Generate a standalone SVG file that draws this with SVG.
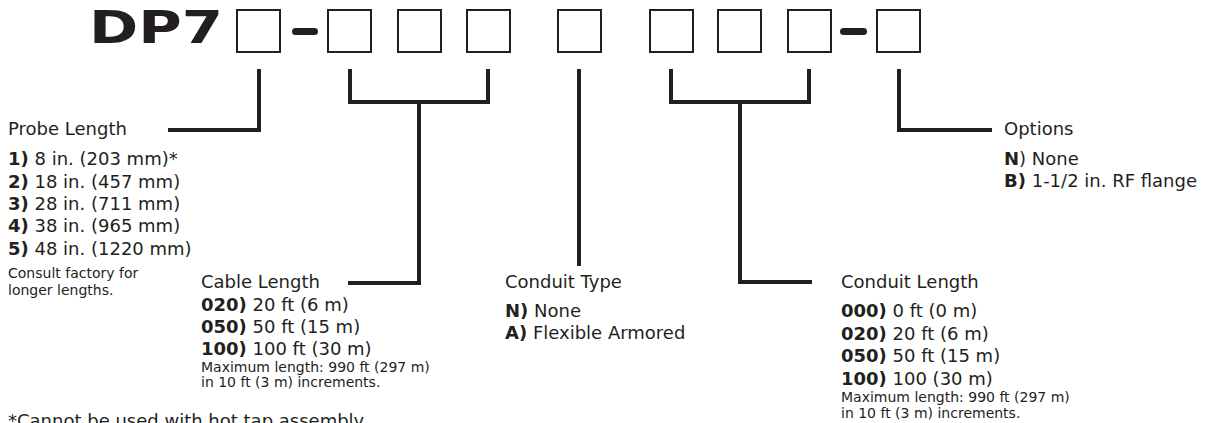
<svg xmlns="http://www.w3.org/2000/svg" width="1211" height="423" viewBox="0 0 1211 423">
<style>
.box{fill:#fff;stroke:#231f20;stroke-width:2}
.dash{fill:#231f20}
.con{fill:none;stroke:#231f20;stroke-width:4;stroke-linejoin:miter;stroke-linecap:butt}
text{font-family:"DejaVu Sans","Liberation Sans",sans-serif;fill:#231f20}
.t{font-size:18px}
.s{font-size:14px}
.b{font-weight:bold}
</style>
<rect width="1211" height="423" fill="#fff"/>
<g id="code">
<text x="89" y="43" font-size="44" font-weight="bold" textLength="134" lengthAdjust="spacingAndGlyphs">DP7</text>
<rect class="box" x="237" y="10" width="43" height="42"/>
<rect class="dash" x="292" y="28" width="26" height="7" rx="3.5"/>
<rect class="box" x="328" y="10" width="43" height="42"/>
<rect class="box" x="398" y="10" width="43" height="42"/>
<rect class="box" x="467" y="10" width="43" height="42"/>
<rect class="box" x="558" y="10" width="43" height="42"/>
<rect class="box" x="650" y="10" width="43" height="42"/>
<rect class="box" x="718" y="10" width="43" height="42"/>
<rect class="box" x="788" y="10" width="43" height="42"/>
<rect class="dash" x="840" y="28" width="27" height="7" rx="3.5"/>
<rect class="box" x="877" y="10" width="43" height="42"/>
</g>
<g id="connectors">
<path class="con" d="M259,69 V130 H168"/>
<path class="con" d="M350,69 V102 H488 V69"/>
<path class="con" d="M419,102 V283 H348"/>
<path class="con" d="M579,69 V266"/>
<path class="con" d="M671,69 V102 H809 V69"/>
<path class="con" d="M740,102 V282 H812"/>
<path class="con" d="M899,69 V130 H992"/>
</g>
<g id="probe-length">
<text class="t" x="8" y="135">Probe Length</text>
<text class="t" x="8" y="165"><tspan class="b">1)</tspan> 8 in. (203 mm)*</text>
<text class="t" x="8" y="188"><tspan class="b">2)</tspan> 18 in. (457 mm)</text>
<text class="t" x="8" y="210"><tspan class="b">3)</tspan> 28 in. (711 mm)</text>
<text class="t" x="8" y="232"><tspan class="b">4)</tspan> 38 in. (965 mm)</text>
<text class="t" x="8" y="255"><tspan class="b">5)</tspan> 48 in. (1220 mm)</text>
<text class="s" x="8" y="278">Consult factory for</text>
<text class="s" x="8" y="295">longer lengths.</text>
</g>
<g id="cable-length">
<text class="t" x="201" y="288">Cable Length</text>
<text class="t" x="201" y="311"><tspan class="b">020)</tspan> 20 ft (6 m)</text>
<text class="t" x="201" y="333"><tspan class="b">050)</tspan> 50 ft (15 m)</text>
<text class="t" x="201" y="355"><tspan class="b">100)</tspan> 100 ft (30 m)</text>
<text class="s" x="201" y="372">Maximum length: 990 ft (297 m)</text>
<text class="s" x="201" y="387">in 10 ft (3 m) increments.</text>
</g>
<g id="conduit-type">
<text class="t" x="505" y="288">Conduit Type</text>
<text class="t" x="505" y="317"><tspan class="b">N)</tspan> None</text>
<text class="t" x="505" y="339"><tspan class="b">A)</tspan> Flexible Armored</text>
</g>
<g id="conduit-length">
<text class="t" x="841" y="288">Conduit Length</text>
<text class="t" x="841" y="317"><tspan class="b">000)</tspan> 0 ft (0 m)</text>
<text class="t" x="841" y="340"><tspan class="b">020)</tspan> 20 ft (6 m)</text>
<text class="t" x="841" y="362"><tspan class="b">050)</tspan> 50 ft (15 m)</text>
<text class="t" x="841" y="385"><tspan class="b">100)</tspan> 100 (30 m)</text>
<text class="s" x="841" y="402">Maximum length: 990 ft (297 m)</text>
<text class="s" x="841" y="418">in 10 ft (3 m) increments.</text>
</g>
<g id="options">
<text class="t" x="1004" y="135">Options</text>
<text class="t" x="1004" y="165"><tspan class="b">N</tspan>) None</text>
<text class="t" x="1004" y="187"><tspan class="b">B)</tspan> 1-1/2 in. RF flange</text>
</g>
<g id="footnote">
<text class="t" x="8" y="427">*Cannot be used with hot tap assembly.</text>
</g>
</svg>
